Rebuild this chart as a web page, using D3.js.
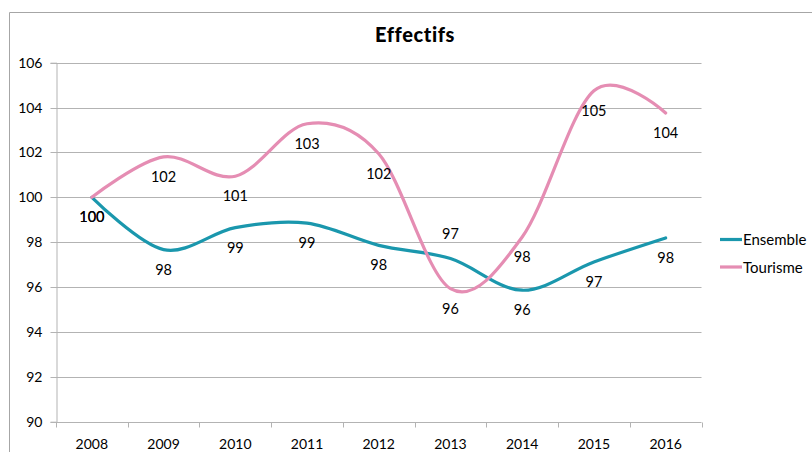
<!DOCTYPE html>
<html>
<head>
<meta charset="utf-8">
<script src="https://cdn.jsdelivr.net/npm/d3@7"></script>
<style>
  html, body { margin: 0; padding: 0; background: #fff; }
  svg { display: block; font-family: Lato, "Open Sans", sans-serif; }
</style>
</head>
<body>
<svg id="chart" width="812" height="452"></svg>
<script>
// Chart data
const years = ["2008", "2009", "2010", "2011", "2012", "2013", "2014", "2015", "2016"];
const ensemble = [100, 97.67, 98.65, 98.85, 97.86, 97.27, 95.86, 97.12, 98.19];
const tourisme = [100, 101.8, 100.94, 103.28, 101.94, 95.93, 98.23, 104.75, 103.76];
const yTicks = [90, 92, 94, 96, 98, 100, 102, 104, 106];
const seriesNames = ["Ensemble", "Tourisme"];
const seriesColors = ["#1a97ad", "#e58db3"];
// years whose Ensemble label sits above the point
const ensembleLabelAbove = ["2013"];

const svg = d3.select("#chart");
const plotLeft = 56, plotRight = 701.5, plotTop = 62.7, plotBottom = 421.7;

// outer chart frame
svg.append("path")
  .attr("d", "M9.5,460 V12.5 H820")
  .attr("fill", "none").attr("stroke", "#a6a6a6").attr("stroke-width", 1);

const x = d3.scaleBand().domain(years).range([plotLeft, plotRight]);
const y = d3.scaleLinear().domain([90, 106]).range([plotBottom, plotTop]);

// horizontal gridlines
svg.append("g").selectAll("line").data(yTicks.filter(t => t !== 90)).join("line")
  .attr("x1", plotLeft).attr("x2", plotRight)
  .attr("y1", d => Math.round(y(d)) + 0.5).attr("y2", d => Math.round(y(d)) + 0.5)
  .attr("stroke", "#b3b3b3").attr("stroke-width", 1);

// y axis
const yAxis = svg.append("g").attr("transform", `translate(${plotLeft + 0.5},0)`)
  .call(d3.axisLeft(y).tickValues(yTicks).tickSize(6).tickPadding(8).tickFormat(d3.format("d")));
yAxis.select(".domain").attr("stroke", "#b3b3b3");
yAxis.selectAll(".tick line").attr("stroke", "#b3b3b3");
yAxis.selectAll("text").attr("font-size", 14).attr("fill", "#000").attr("font-family", "Lato, sans-serif");
yAxis.selectAll(".tick").attr("transform", d => `translate(0,${Math.round(y(d)) + 0.5})`);

// x axis: ticks on category boundaries, labels centred in bands
const xAxisG = svg.append("g").attr("transform", `translate(0,${Math.round(plotBottom) + 0.5})`);
xAxisG.append("line").attr("x1", plotLeft).attr("x2", plotRight).attr("stroke", "#b3b3b3");
const boundaries = years.map(d => x(d)).concat([x(years[years.length - 1]) + x.bandwidth()]);
xAxisG.selectAll("line.tk").data(boundaries).join("line").attr("class", "tk")
  .attr("x1", d => Math.round(d) + 0.5).attr("x2", d => Math.round(d) + 0.5)
  .attr("y1", 0).attr("y2", 5).attr("stroke", "#b3b3b3");
xAxisG.selectAll("text").data(years).join("text")
  .attr("x", d => x(d) + x.bandwidth() / 2).attr("y", 26)
  .attr("text-anchor", "middle").attr("font-size", 14).attr("fill", "#000")
  .text(d => d);

// title
svg.append("text").attr("x", 415).attr("y", 42).attr("text-anchor", "middle")
  .attr("font-size", 20).attr("font-weight", 900).attr("fill", "#000")
  .attr("letter-spacing", 0.6).text("Effectifs");

const cx = d => x(d) + x.bandwidth() / 2;
const line = d3.line().x((d, i) => cx(years[i])).y(d => y(d)).curve(d3.curveCatmullRom.alpha(0));

const series = [ensemble, tourisme];
series.forEach((vals, s) => {
  svg.append("path").datum(vals)
    .attr("d", line).attr("fill", "none")
    .attr("stroke", seriesColors[s]).attr("stroke-width", 3.2)
    .attr("stroke-linecap", "round").attr("stroke-linejoin", "round");
});

// data labels
series.forEach((vals, s) => {
  svg.append("g").selectAll("text").data(vals).join("text")
    .attr("x", (d, i) => cx(years[i]))
    .attr("y", (d, i) => {
      const above = s === 0 && ensembleLabelAbove.includes(years[i]);
      return y(d) + (above ? -20 : 25);
    })
    .attr("text-anchor", "middle").attr("font-size", 14.5).attr("fill", "#000")
    .text(d => Math.round(d));
});

// legend
const lg = svg.append("g");
seriesNames.forEach((name, i) => {
  const ly = 239.5 + i * 27.5;
  lg.append("line").attr("x1", 720).attr("x2", 742).attr("y1", ly).attr("y2", ly)
    .attr("stroke", seriesColors[i]).attr("stroke-width", 3.2);
  lg.append("text").attr("x", 743).attr("y", ly + 5.5).attr("font-size", 15)
    .attr("fill", "#000").text(name);
});
</script>
</body>
</html>
